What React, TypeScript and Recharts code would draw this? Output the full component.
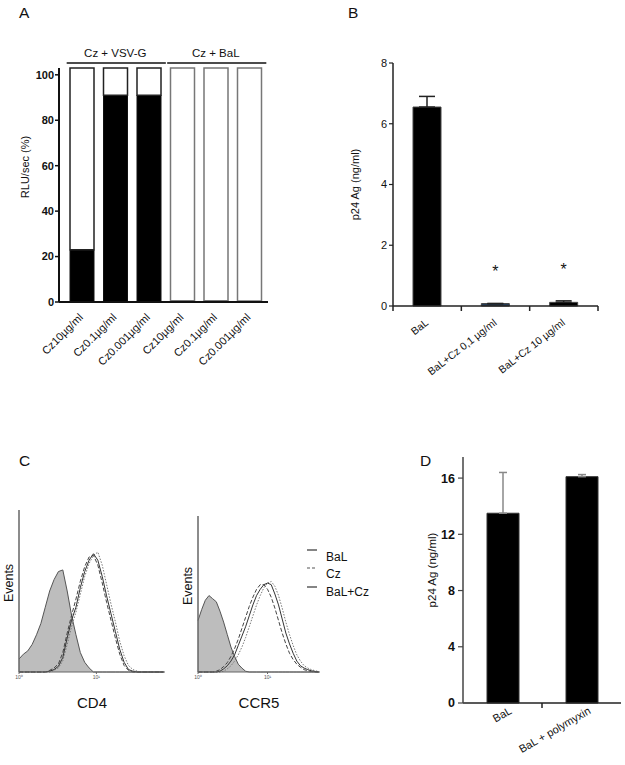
import React from 'react';
import { BarChart, Bar, XAxis, YAxis, ErrorBar, LabelList, Cell, ComposedChart, Area, Line } from 'recharts';

const FONT = '"Liberation Sans", Arial, Helvetica, sans-serif';

// A: RLU/sec (%), black = infected part, white = rest of the bar
const aLabels = ['Cz10µg/ml', 'Cz0.1µg/ml', 'Cz0.001µg/ml', 'Cz10µg/ml', 'Cz0.1µg/ml', 'Cz0.001µg/ml'];
const aGroups = ['', 'Cz + VSV-G', '', '', 'Cz + BaL', ''];
const aInfected = [23, 91, 91, 0.6, 0.6, 0.4];
const aBarTop = 103;
const aTicks = [0, 20, 40, 60, 80, 100];

// B: p24 Ag (ng/ml)
const bLabels = ['BaL', 'BaL+Cz 0,1 µg/ml', 'BaL+Cz 10 µg/ml'];
const bValues = [6.55, 0.08, 0.12];
const bErrors = [0.35, 0, 0.05];
const bStars = ['', '*', '*'];
const bTicks = [0, 2, 4, 6, 8];

// D: p24 Ag (ng/ml)
const dLabels = ['BaL', 'BaL + polymyxin'];
const dValues = [13.5, 16.1];
const dErrors = [2.9, 0.15];
const dTicks = [0, 4, 8, 12, 16];

// C: flow histograms, bins on a 0-100 log scale, events in % of axis height
const bins = [0, 3, 6, 9, 12, 15, 18, 21, 24, 27, 30, 33, 36, 39, 42, 45, 48, 51, 54, 57, 60, 63, 66, 69, 72, 75, 78, 81, 84, 87, 90, 93, 96, 99];
const cd4Isotype = [8, 11, 13, 17, 23, 30, 40, 50, 57, 62, 63, 50, 35, 23, 12, 6, 2.5, 0, 0, 0, 0, 0, 0, 0, 0, 0, 0, 0, 0, 0, 0, 0, 0, 0];
const cd4BaL = [0, 0, 0, 0, 0, 0, 0, 0.5, 1.5, 3.5, 9, 21, 32, 40, 52, 62, 69, 73, 69, 59, 47, 36, 25, 14, 6, 1.5, 0.5, 0, 0, 0, 0, 0, 0, 0];
const cd4Cz = [0, 0, 0, 0, 0, 0, 0, 0, 1, 2.5, 7, 17, 28, 37, 48, 59, 67, 72, 74, 66, 54, 42, 31, 19, 10, 4, 1.5, 0.5, 0, 0, 0, 0, 0, 0];
const cd4BaLCz = [0, 0, 0, 0, 0, 0, 0, 1, 2.5, 5, 12, 24, 35, 45, 56, 65, 71, 72, 66, 55, 43, 32, 21, 11, 4, 1, 0, 0, 0, 0, 0, 0, 0, 0];
const ccr5Isotype = [33, 40, 46, 49, 47, 45, 39, 32, 24, 16, 10, 5, 2.5, 0.5, 0, 0, 0, 0, 0, 0, 0, 0, 0, 0, 0, 0, 0, 0, 0, 0, 0, 0, 0, 0];
const ccr5BaL = [0, 0, 0, 0, 0, 0, 0.5, 2, 4, 7, 11, 17, 23, 29, 36, 43, 49, 53, 56, 57, 56, 50, 43, 34, 25, 18, 12, 7, 4, 2.5, 1.5, 0.8, 0.3, 0];
const ccr5Cz = [0, 0, 0, 0, 0, 0, 0, 0.5, 2, 4, 7, 11, 16, 22, 29, 36, 43, 49, 54, 57, 58, 55, 49, 41, 32, 24, 17, 11, 7, 4, 2.5, 1.5, 0.8, 0.3];
const ccr5BaLCz = [0, 0, 0, 0, 0, 0.5, 1.5, 3.5, 6, 10, 15, 21, 28, 35, 42, 48, 53, 56, 56, 53, 48, 41, 33, 25, 18, 12, 8, 5, 3, 1.5, 0.8, 0.3, 0, 0];
const cd4DecadeTicks = [0, 53];
const ccr5DecadeTicks = [0, 57];
const decadeNames = ['10⁰', '10¹'];

const aRows = aLabels.map((name, i) => ({ id: 'a' + i, name, inf: aInfected[i], rest: aBarTop - aInfected[i] }));
// error bars are drawn upwards only
const bRows = bLabels.map((name, i) => ({ name, value: bValues[i], err: [0, bErrors[i]], star: bStars[i] }));
const dRows = dLabels.map((name, i) => ({ name, value: dValues[i], err: [0, dErrors[i]] }));
const cd4Rows = bins.map((x, i) => ({ x, iso: cd4Isotype[i], bal: cd4BaL[i], cz: cd4Cz[i], balcz: cd4BaLCz[i] }));
const ccr5Rows = bins.map((x, i) => ({ x, iso: ccr5Isotype[i], bal: ccr5BaL[i], cz: ccr5Cz[i], balcz: ccr5BaLCz[i] }));

const yTitle = (text: string, dx: number, dy: number, size: number) => ({
  content: (p: any) => {
    const vb = p.viewBox || { x: 0, y: 0, width: 0, height: 0 };
    const cx = vb.x + dx;
    const cy = vb.y + vb.height / 2 + dy;
    return (
      <text x={cx} y={cy} transform={`rotate(-90 ${cx} ${cy})`} textAnchor="middle" dominantBaseline="central"
        fontFamily={FONT} fontSize={size} fill="#111">{text}</text>
    );
  },
});

const GroupTick = (props: any) => {
  const { x, y, index, payload } = props;
  const label = aGroups[index];
  if (!label) return null;
  const half = (payload.offset || 16.7) * 2 * 1.45;
  return (
    <g>
      <text x={x} y={y - 11} textAnchor="middle" fontFamily={FONT} fontSize={11.5} fill="#111">{label}</text>
      <line x1={x - half} x2={x + half + 2} y1={y - 5} y2={y - 5} stroke="#111" strokeWidth={1.5} />
    </g>
  );
};

const RotTick = (labels: string[], angle: number, dx: number, dy: number, size: number, edges: boolean) => (props: any) => {
  const { x, y, index, payload } = props;
  const half = payload.offset || 0;
  const tx = x + dx;
  const ty = y + dy;
  const all = labels.length === 3;
  return (
    <g>
      {edges && (index > 0 || all) && <line x1={x - half} x2={x - half} y1={y} y2={y + 5} stroke="#222" strokeWidth={1.5} />}
      {edges && all && index === labels.length - 1 && <line x1={x + half} x2={x + half} y1={y} y2={y + 5} stroke="#222" strokeWidth={1.5} />}
      <text x={tx} y={ty} transform={`rotate(${angle} ${tx} ${ty})`} textAnchor="end" fontFamily={FONT} fontSize={size} fill="#111">
        {labels[index]}
      </text>
    </g>
  );
};

const tickStyle = { fontFamily: FONT, fontSize: 11, fill: '#111' };

const Histogram = ({ rows, width, height, margin, decades, name }: any) => (
  <ComposedChart width={width} height={height} data={rows} margin={margin}>
    <XAxis type="number" dataKey="x" domain={[0, 100]} ticks={decades} interval={0} height={40}
      tickFormatter={(v: number) => decadeNames[decades.indexOf(v)] || ''}
      tick={{ fontFamily: FONT, fontSize: 5, fill: '#555' }} tickSize={2} tickMargin={1}
      axisLine={{ stroke: '#666', strokeWidth: 1.2 }} tickLine={{ stroke: '#666' }}
      label={{ value: name, position: 'insideBottom', offset: 4, fontFamily: FONT, fontSize: 15, fill: '#111' }} />
    <YAxis domain={[0, 100]} width={1} tick={false} tickLine={false} axisLine={{ stroke: '#666', strokeWidth: 1.5 }}
      label={yTitle('Events', -9, -8, 12.5)} />
    <Area type="linear" dataKey="iso" fill="#bdbdbd" fillOpacity={1} stroke="#555" strokeWidth={1} dot={false} activeDot={false} isAnimationActive={false} />
    <Line type="linear" dataKey="balcz" stroke="#444" strokeWidth={1} strokeDasharray="4 2" dot={false} activeDot={false} isAnimationActive={false} />
    <Line type="linear" dataKey="cz" stroke="#777" strokeWidth={1} strokeDasharray="1.5 1.5" dot={false} activeDot={false} isAnimationActive={false} />
    <Line type="linear" dataKey="bal" stroke="#333" strokeWidth={1} dot={false} activeDot={false} isAnimationActive={false} />
  </ComposedChart>
);

export default function App() {
  return (
    <div style={{ position: 'absolute', left: 0, top: 0, width: 625, height: 765, background: '#fff', overflow: 'hidden' }}>
      {/* A */}
      <div style={{ position: 'absolute', left: 0, top: 0 }}>
        <BarChart width={290} height={400} data={aRows} margin={{ top: 8, right: 22, bottom: 8, left: 15 }}>
          <XAxis xAxisId="grp" orientation="top" dataKey="id" height={60} padding={{ left: 6, right: 2 }} interval={0}
            axisLine={false} tickLine={false} tickSize={0} tickMargin={0} tick={<GroupTick />} />
          <XAxis dataKey="id" height={90} padding={{ left: 6, right: 2 }} interval={0} tickLine={false} tickSize={0} tickMargin={0}
            axisLine={{ stroke: '#111', strokeWidth: 2 }} tick={RotTick(aLabels, -45, 2, 16, 11, false)} />
          <YAxis domain={[0, aBarTop]} ticks={aTicks} interval={0} width={44} tickSize={4} tickMargin={1}
            axisLine={{ stroke: '#111', strokeWidth: 2 }} tickLine={{ stroke: '#111', strokeWidth: 1.5 }}
            tick={{ ...tickStyle, fontWeight: 'bold' }} label={yTitle('RLU/sec (%)', 10, -18, 11)} />
          <Bar dataKey="inf" stackId="s" barSize={24} fill="#000" isAnimationActive={false}>
            {aRows.map((r, i) => <Cell key={r.id} stroke={i < 3 ? '#111' : '#666'} strokeWidth={1} />)}
          </Bar>
          <Bar dataKey="rest" stackId="s" barSize={24} fill="#fff" isAnimationActive={false}>
            {aRows.map((r, i) => <Cell key={r.id} stroke={i < 3 ? '#222' : '#777'} strokeWidth={1.5} />)}
          </Bar>
        </BarChart>
      </div>

      {/* B */}
      <div style={{ position: 'absolute', left: 330, top: 0 }}>
        <BarChart width={290} height={400} data={bRows} margin={{ top: 63, right: 22, bottom: 4, left: 10 }}>
          <XAxis dataKey="name" height={90} interval={0} tickLine={false} tickSize={0} tickMargin={0}
            axisLine={{ stroke: '#222', strokeWidth: 1.5 }} tick={RotTick(bLabels, -38, 2, 18, 10.5, true)} />
          <YAxis domain={[0, 8]} ticks={bTicks} interval={0} width={53} tickSize={4} tickMargin={2}
            axisLine={{ stroke: '#222', strokeWidth: 1.5 }} tickLine={{ stroke: '#222', strokeWidth: 1.2 }}
            tick={tickStyle} label={yTitle('p24 Ag (ng/ml)', 15, 0, 11)} />
          <Bar dataKey="value" barSize={28} isAnimationActive={false} stroke="#444" strokeWidth={1}>
            {bRows.map((r, i) => <Cell key={r.name} fill={i === 1 ? '#243c58' : '#000'} />)}
            <ErrorBar dataKey="err" width={8} stroke="#222" strokeWidth={1.5} direction="y" />
            <LabelList dataKey="star" position="top" offset={27} fontFamily={FONT} fontSize={16} fill="#111" />
          </Bar>
        </BarChart>
      </div>

      {/* C */}
      <div style={{ position: 'absolute', left: 0, top: 490 }}>
        <Histogram rows={cd4Rows} width={175} height={225} margin={{ top: 20, right: 10, bottom: 3, left: 18 }}
          decades={cd4DecadeTicks} name="CD4" />
      </div>
      <div style={{ position: 'absolute', left: 180, top: 490 }}>
        <Histogram rows={ccr5Rows} width={150} height={225} margin={{ top: 26, right: 10, bottom: 3, left: 17 }}
          decades={ccr5DecadeTicks} name="CCR5" />
      </div>

      {/* D */}
      <div style={{ position: 'absolute', left: 390, top: 440 }}>
        <BarChart width={235} height={325} data={dRows} margin={{ top: 17, right: 4, bottom: 2, left: 13 }}>
          <XAxis dataKey="name" height={60} interval={0} tickLine={false} tickSize={0} tickMargin={0}
            axisLine={{ stroke: '#222', strokeWidth: 1.5 }} tick={RotTick(dLabels, -30, 10, 10, 11, true)} />
          <YAxis domain={[0, 17.5]} ticks={dTicks} interval={0} width={60} tickSize={5} tickMargin={3}
            axisLine={{ stroke: '#444', strokeWidth: 1.5 }} tickLine={{ stroke: '#444', strokeWidth: 1.2 }}
            tick={{ ...tickStyle, fontSize: 12.5, fontWeight: 'bold' }} label={yTitle('p24 Ag (ng/ml)', 29, -10, 11.5)} />
          <Bar dataKey="value" barSize={32} fill="#000" stroke="#333" strokeWidth={1} isAnimationActive={false}>
            <ErrorBar dataKey="err" width={4} stroke="#888" strokeWidth={1.5} direction="y" />
          </Bar>
        </BarChart>
      </div>

      {/* panel letters and histogram legend */}
      <svg width={625} height={765} style={{ position: 'absolute', left: 0, top: 0, pointerEvents: 'none' }}>
        <g fontFamily={FONT} fill="#111" fontSize={15.5}>
          <text x={19} y={18}>A</text>
          <text x={348} y={18}>B</text>
          <text x={19} y={466}>C</text>
          <text x={420} y={466}>D</text>
        </g>
        <g fontFamily={FONT} fontSize={12} fill="#111">
          <line x1={307} x2={317} y1={550} y2={550} stroke="#333" strokeWidth={1.2} />
          <line x1={307} x2={317} y1={568} y2={568} stroke="#555" strokeWidth={1.2} strokeDasharray="3 2" />
          <line x1={307} x2={317} y1={587} y2={587} stroke="#333" strokeWidth={1.2} />
          <text x={326} y={561}>BaL</text>
          <text x={326} y={578}>Cz</text>
          <text x={326} y={596}>BaL+Cz</text>
        </g>
      </svg>
    </div>
  );
}
